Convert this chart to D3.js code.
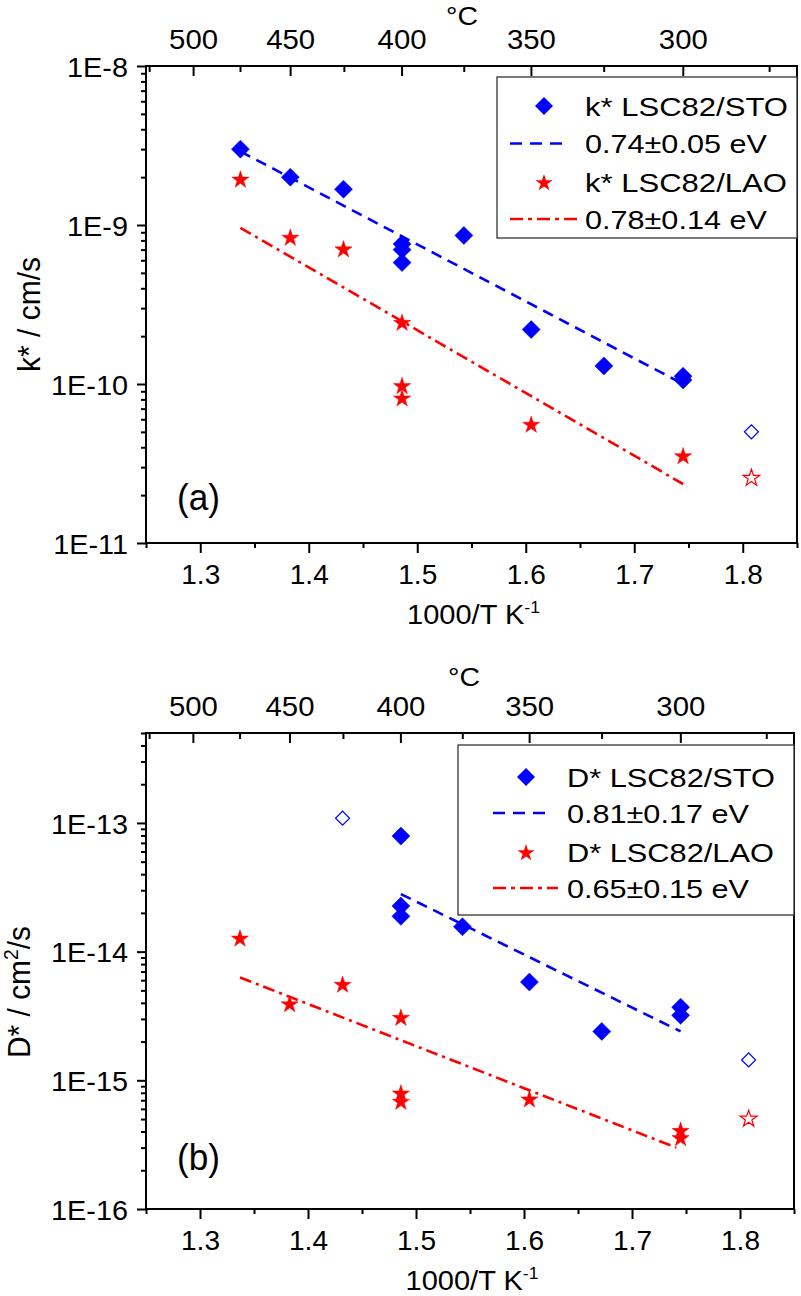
<!DOCTYPE html>
<html><head><meta charset="utf-8">
<script src="https://cdn.jsdelivr.net/npm/d3@7"></script>
<style>body{margin:0;background:#fff}svg{display:block}</style>
</head><body>
<svg id="chart" width="801" height="1296"></svg>
<script>
// ---------- DATA ----------
// panel (a): k*
const kSTO_x = [1.337, 1.383, 1.432, 1.486, 1.486, 1.486, 1.543, 1.605, 1.672, 1.745, 1.745];
const kSTO_y = [3.0e-9, 2.0e-9, 1.68e-9, 7.6e-10, 7.0e-10, 5.8e-10, 8.6e-10, 2.2e-10, 1.3e-10, 1.12e-10, 1.06e-10];
const kSTOopen_x = [1.808];
const kSTOopen_y = [5.0e-11];
const kLAO_x = [1.337, 1.383, 1.432, 1.486, 1.486, 1.486, 1.605, 1.745];
const kLAO_y = [1.95e-9, 8.4e-10, 7.1e-10, 2.45e-10, 9.8e-11, 8.2e-11, 5.6e-11, 3.55e-11];
const kLAOopen_x = [1.808];
const kLAOopen_y = [2.6e-11];
const kSTOfit_x = [1.337, 1.745];
const kSTOfit_y = [2.9e-9, 1.0e-10];
const kLAOfit_x = [1.337, 1.745];
const kLAOfit_y = [9.6e-10, 2.35e-11];
// panel (b): D*
const DSTO_x = [1.486, 1.486, 1.486, 1.543, 1.605, 1.672, 1.745, 1.745];
const DSTO_y = [7.9e-14, 2.26e-14, 1.88e-14, 1.56e-14, 5.8e-15, 2.4e-15, 3.7e-15, 3.2e-15];
const DSTOopen_x = [1.432, 1.808];
const DSTOopen_y = [1.09e-13, 1.44e-15];
const DLAO_x = [1.337, 1.383, 1.432, 1.486, 1.486, 1.486, 1.605, 1.745, 1.745];
const DLAO_y = [1.28e-14, 3.95e-15, 5.6e-15, 3.1e-15, 8.0e-16, 6.9e-16, 7.2e-16, 4.1e-16, 3.6e-16];
const DLAOopen_x = [1.808];
const DLAOopen_y = [5.1e-16];
const DSTOfit_x = [1.486, 1.745];
const DSTOfit_y = [2.8e-14, 2.4e-15];
const DLAOfit_x = [1.337, 1.741];
const DLAOfit_y = [6.3e-15, 3.0e-16];
// axes
const xMajorTicks = [1.3, 1.4, 1.5, 1.6, 1.7, 1.8];
const xMinorTicks = [1.25, 1.35, 1.45, 1.55, 1.65, 1.75, 1.85];
const tempMajor = [500, 450, 400, 350, 300];
const tempMinor = [525, 475, 425, 375, 325, 275];
const legendA = ["k* LSC82/STO", "0.74±0.05 eV", "k* LSC82/LAO", "0.78±0.14 eV"];
const legendB = ["D* LSC82/STO", "0.81±0.17 eV", "D* LSC82/LAO", "0.65±0.15 eV"];

// ---------- DRAW ----------
const FONT = "'Liberation Sans', Arial, Helvetica, sans-serif";
const BLUE = "#0000ff", RED = "#ff0000";
const svg = d3.select("#chart");
const zip = (xs, ys) => xs.map((x, i) => [x, ys[i]]);

// text stretched horizontally to a target width (the reference is wider than tall)
function txt(g, x, y, s, size, anchor, target) {
  const t = g.append("text")
    .attr("text-anchor", anchor || "middle")
    .attr("font-family", FONT).attr("font-size", size).attr("fill", "#000")
    .text(s);
  t.fit = (tw) => {
    const w = t.node().getComputedTextLength();
    const sx = tw && w ? tw / w : 1.14;
    t.attr("transform", `translate(${x},${y}) scale(${sx},1)`);
    return t;
  };
  t.fit(target);
  return t;
}
function axisTextScale(sel, sample, target) {
  let sx = 1.14;
  sel.each(function () { if (this.textContent === sample) sx = target / this.getComputedTextLength(); });
  return sx;
}

const diamond = d3.symbol().type(d3.symbolSquare);
const star = d3.symbol().type(d3.symbolStar);

function panel(cfg) {
  const g = svg.append("g");
  const x = d3.scaleLinear().domain([1.25, 1.85]).range([cfg.left, cfg.right]);
  const y = d3.scaleLog().domain(cfg.yDomain).range([cfg.bottom, cfg.top]);
  const toX = t => 1000 / (t + 273.15);

  // bottom axis
  const bx = g.append("g").attr("transform", `translate(0,${cfg.bottom})`)
    .call(d3.axisBottom(x).tickValues(xMajorTicks).tickSize(10).tickFormat(d3.format(".1f")));
  g.append("g").attr("transform", `translate(0,${cfg.bottom})`)
    .call(d3.axisBottom(x).tickValues(xMinorTicks).tickSize(5).tickFormat(""));
  const bt = bx.selectAll("text").attr("y", 41).attr("dy", null)
    .attr("font-size", 28).attr("font-family", FONT).attr("fill", "#000");
  const sxb = axisTextScale(bt, "1.3", 39);
  bt.attr("transform", `scale(${sxb},1)`);

  // top axis (°C), ticks inward
  const tx = g.append("g").attr("transform", `translate(0,${cfg.top})`)
    .call(d3.axisBottom(x).tickValues(tempMajor.map(toX)).tickSize(10)
      .tickFormat(d => String(Math.round(1000 / d - 273.15))));
  g.append("g").attr("transform", `translate(0,${cfg.top})`)
    .call(d3.axisBottom(x).tickValues(tempMinor.map(toX)).tickSize(6).tickFormat(""));
  const tt = tx.selectAll("text").attr("y", -17).attr("dy", null)
    .attr("font-size", 28).attr("font-family", FONT).attr("fill", "#000");
  const sxt = axisTextScale(tt, "500", 49);
  tt.attr("transform", `scale(${sxt},1)`);

  // left axis
  const [y0, y1] = cfg.yDomain;
  const e0 = Math.round(Math.log10(y0)), e1 = Math.floor(Math.log10(y1));
  const majors = d3.range(e0, e1 + 1).map(e => Math.pow(10, e));
  const minors = [];
  for (let e = e0; e <= e1; e++) for (let m = 2; m <= 9; m++) { const v = m * Math.pow(10, e); if (v <= y1 * 1.0001) minors.push(v); }
  const ly = g.append("g").attr("transform", `translate(${cfg.left},0)`)
    .call(d3.axisLeft(y).tickValues(majors).tickSize(9).tickFormat(d => "1E" + Math.round(Math.log10(d))));
  g.append("g").attr("transform", `translate(${cfg.left},0)`)
    .call(d3.axisLeft(y).tickValues(minors).tickSize(5).tickFormat(""));
  const lt = ly.selectAll("text").attr("dy", "0.36em")
    .attr("font-size", 28).attr("font-family", FONT).attr("fill", "#000");
  const sxl = axisTextScale(lt, cfg.sampleY, 77);
  lt.attr("x", -18 / sxl).attr("transform", `scale(${sxl},1)`);

  g.selectAll(".domain").remove();
  g.selectAll(".tick line").attr("stroke", "#000").attr("stroke-width", 2);

  // frame
  g.append("rect").attr("x", cfg.left).attr("y", cfg.top)
    .attr("width", cfg.right - cfg.left).attr("height", cfg.bottom - cfg.top)
    .attr("fill", "none").attr("stroke", "#000").attr("stroke-width", 2);

  // titles
  txt(g, cfg.degX, cfg.degY, "°C", 26, "middle", 32);
  const xt = txt(g, (cfg.left + cfg.right) / 2 + 2, cfg.bottom + 81, "1000/T K", 28, "middle");
  xt.append("tspan").attr("font-size", 17).attr("dy", -11).text("-1");
  xt.fit(133);
  const yt = g.append("text")
    .attr("text-anchor", "start").attr("font-family", FONT).attr("font-size", 28).attr("fill", "#000");
  cfg.yTitle(yt);
  const yw = yt.node().getComputedTextLength();
  yt.attr("transform", `translate(${cfg.yTitleX},${cfg.yTitleY}) rotate(-90) scale(${cfg.yTitleLen / yw},1.1)`);
  txt(g, cfg.left + 31, cfg.labelY, cfg.label, 36, "start", 43);

  // series
  const line = d3.line().x(d => x(d[0])).y(d => y(d[1]));
  const plotDiamonds = (pts, open) => g.append("g").selectAll("path").data(pts).join("path")
    .attr("d", diamond.size(open ? 98 : 162)())
    .attr("transform", d => `translate(${x(d[0])},${y(d[1])}) rotate(45)`)
    .attr("fill", open ? "none" : BLUE).attr("stroke", BLUE).attr("stroke-width", open ? 1.2 : 0.5);
  const plotStars = (pts, open) => g.append("g").selectAll("path").data(pts).join("path")
    .attr("d", star.size(open ? 88 : 92)())
    .attr("transform", d => `translate(${x(d[0])},${y(d[1]) + 1})`)
    .attr("fill", open ? "none" : RED).attr("stroke", RED).attr("stroke-width", open ? 1.2 : 0.5);

  plotDiamonds(cfg.sto, false);
  plotDiamonds(cfg.stoOpen, true);
  g.append("path").datum(cfg.stoFit).attr("d", line).attr("fill", "none")
    .attr("stroke", BLUE).attr("stroke-width", 2.6).attr("stroke-dasharray", "11,7");
  plotStars(cfg.lao, false);
  plotStars(cfg.laoOpen, true);
  g.append("path").datum(cfg.laoFit).attr("d", line).attr("fill", "none")
    .attr("stroke", RED).attr("stroke-width", 2.6).attr("stroke-dasharray", "12,5,3,5");

  // legend
  const L = cfg.leg;
  const lg = g.append("g");
  lg.append("rect").attr("x", L.x0).attr("y", L.y0).attr("width", L.x1 - L.x0).attr("height", L.y1 - L.y0)
    .attr("fill", "#fff").attr("stroke", "#333").attr("stroke-width", 1.3);
  lg.append("path").attr("d", diamond.size(162)()).attr("transform", `translate(${L.sym},${L.rows[0]}) rotate(45)`).attr("fill", BLUE);
  lg.append("line").attr("x1", L.l0).attr("x2", L.l1).attr("y1", L.rows[1]).attr("y2", L.rows[1])
    .attr("stroke", BLUE).attr("stroke-width", 2.6).attr("stroke-dasharray", "12,8");
  lg.append("path").attr("d", star.size(92)()).attr("transform", `translate(${L.sym},${L.rows[2] + 1})`).attr("fill", RED);
  lg.append("line").attr("x1", L.l0).attr("x2", L.l2).attr("y1", L.rows[3]).attr("y2", L.rows[3])
    .attr("stroke", RED).attr("stroke-width", 2.6).attr("stroke-dasharray", "13,5,4,5");
  cfg.legendText.forEach((s, i) => txt(lg, L.tx, L.rows[i] + 9.5, s, 26, "start", L.widths[i]));
}

panel({
  left: 146, right: 797, top: 66, bottom: 543, yDomain: [1e-11, 1e-8], sampleY: "1E-10",
  degX: 462, degY: 25, yTitleX: 40, yTitleY: 372, yTitleLen: 115, labelY: 510, label: "(a)",
  yTitle: t => t.text("k* / cm/s"),
  sto: zip(kSTO_x, kSTO_y), stoOpen: zip(kSTOopen_x, kSTOopen_y), stoFit: zip(kSTOfit_x, kSTOfit_y),
  lao: zip(kLAO_x, kLAO_y), laoOpen: zip(kLAOopen_x, kLAOopen_y), laoFit: zip(kLAOfit_x, kLAOfit_y),
  legendText: legendA,
  leg: { x0: 497, x1: 797, y0: 77, y1: 238, sym: 544, rows: [106, 143.5, 182, 219], l0: 510, l1: 566, l2: 577, tx: 585,
         widths: [203, 182, 202, 182] }
});

panel({
  left: 146, right: 794, top: 733, bottom: 1209, yDomain: [1e-16, 5e-13], sampleY: "1E-13",
  degX: 464, degY: 686, yTitleX: 30, yTitleY: 1058, yTitleLen: 132, labelY: 1170, label: "(b)",
  yTitle: t => { t.text("D* / cm"); t.append("tspan").attr("font-size", 18).attr("dy", -11).text("2"); t.append("tspan").attr("dy", 11).text("/s"); },
  sto: zip(DSTO_x, DSTO_y), stoOpen: zip(DSTOopen_x, DSTOopen_y), stoFit: zip(DSTOfit_x, DSTOfit_y),
  lao: zip(DLAO_x, DLAO_y), laoOpen: zip(DLAOopen_x, DLAOopen_y), laoFit: zip(DLAOfit_x, DLAOfit_y),
  legendText: legendB,
  leg: { x0: 458, x1: 794, y0: 745, y1: 915, sym: 526, rows: [777, 813, 852, 888], l0: 493, l1: 548, l2: 558, tx: 567,
         widths: [208, 182, 207, 182] }
});
</script>
</body></html>
